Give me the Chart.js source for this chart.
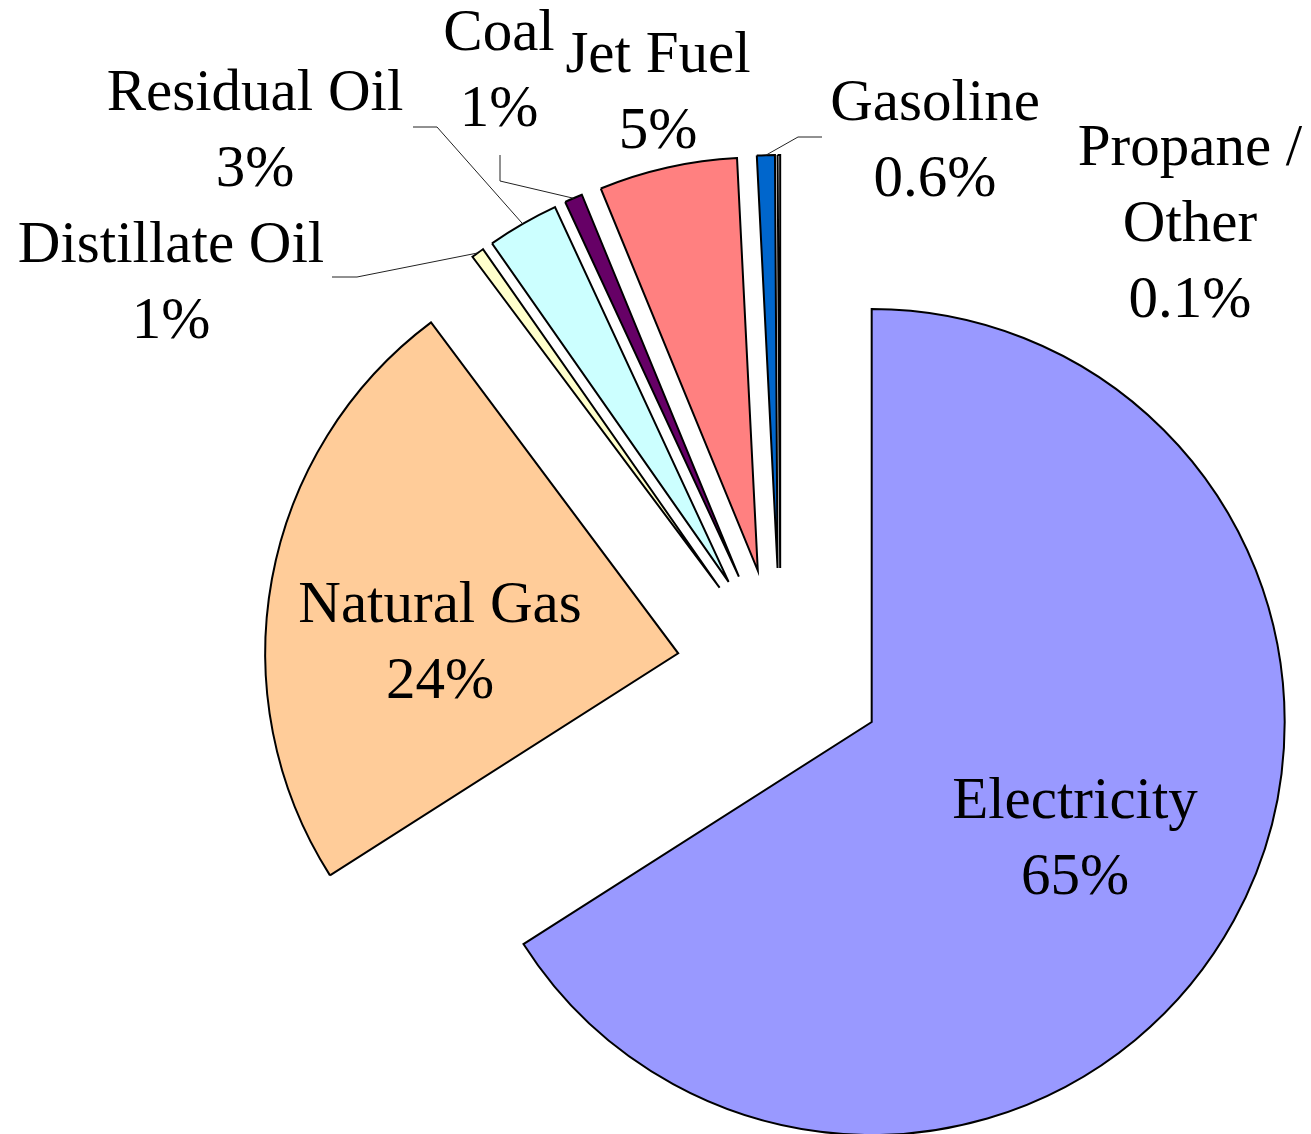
<!DOCTYPE html>
<html><head><meta charset="utf-8">
<script src="https://cdn.jsdelivr.net/npm/chart.js@4.4.0/dist/chart.umd.min.js"></script>
<style>html,body{margin:0;padding:0;background:#fff;overflow:hidden}#wrap{width:1311px;height:1134px;position:relative}</style>
</head><body><div id="wrap"><canvas id="c"></canvas></div>
<script>
// ---- data ----
const categories = ['Electricity', 'Natural Gas', 'Distillate Oil', 'Residual Oil', 'Coal', 'Jet Fuel', 'Gasoline', 'Propane / Other'];
const shares = [65.9, 23.8, 0.5, 2.8, 0.7, 5.4, 0.7, 0.1];
const shareLabels = ['65%', '24%', '1%', '3%', '1%', '5%', '0.6%', '0.1%'];
const sliceColors = ['#9999FF', '#FFCC99', '#FFFFCC', '#CCFFFF', '#660066', '#FF8080', '#0066CC', '#FFFFFF'];

// ---- label layout (annotation positions, not data) ----
const labelLayout = [
  {x: 1075, y: 818},
  {x: 440, y: 622},
  {x: 171, y: 262, leader: [[332, 277], [357, 277]]},
  {x: 255, y: 110, leader: [[413, 127], [437, 127]]},
  {x: 499, y: 50, leader: [[500, 155], [500, 181]]},
  {x: 658, y: 72},
  {x: 935, y: 120, leader: [[822, 137], [798, 137]]},
  {x: 1190, y: 165, wrap: ['Propane /', 'Other']}
];
const EXPLODE = 104;
const RADIUS = 413;
const LINE_H = 76;
const FONT = '59px "Liberation Serif", "Times New Roman", serif';

const explodePlugin = {
  id: 'explode',
  beforeDatasetDraw(chart, args) {
    const ctx = chart.ctx;
    args.meta.data.forEach(arc => {
      const mid = (arc.startAngle + arc.endAngle) / 2;
      ctx.save();
      ctx.translate(Math.cos(mid) * EXPLODE, Math.sin(mid) * EXPLODE);
      arc.draw(ctx);
      ctx.restore();
    });
    return false;
  },
  afterDatasetsDraw(chart) {
    const ctx = chart.ctx;
    const meta = chart.getDatasetMeta(0);
    ctx.save();
    meta.data.forEach((arc, i) => {
      const lay = labelLayout[i];
      if (!lay) return;
      const mid = (arc.startAngle + arc.endAngle) / 2;
      if (lay.leader) {
        const r = EXPLODE + arc.outerRadius;
        const ex = arc.x + Math.cos(mid) * r;
        const ey = arc.y + Math.sin(mid) * r;
        ctx.beginPath();
        ctx.lineWidth = 1;
        ctx.strokeStyle = '#222';
        ctx.moveTo(lay.leader[0][0], lay.leader[0][1]);
        for (let k = 1; k < lay.leader.length; k++) ctx.lineTo(lay.leader[k][0], lay.leader[k][1]);
        ctx.lineTo(ex, ey);
        ctx.stroke();
      }
      const lines = (lay.wrap || [categories[i]]).concat([shareLabels[i]]);
      ctx.font = FONT;
      ctx.fillStyle = '#000';
      ctx.textAlign = 'center';
      ctx.textBaseline = 'alphabetic';
      lines.forEach((t, k) => ctx.fillText(t, lay.x, lay.y + k * LINE_H));
    });
    ctx.restore();
  }
};

new Chart(document.getElementById('c'), {
  type: 'pie',
  data: {
    labels: categories,
    datasets: [{
      data: shares,
      backgroundColor: sliceColors,
      borderColor: '#000',
      borderWidth: 2,
      borderJoinStyle: 'miter',
      radius: RADIUS,
      offset: 0,
      hoverOffset: 0,
      clip: false
    }]
  },
  options: {
    responsive: true,
    maintainAspectRatio: false,
    animation: false,
    events: [],
    layout: {padding: {left: 250, top: 210, right: 0, bottom: 0}},
    plugins: {legend: {display: false}, tooltip: {enabled: false}}
  },
  plugins: [explodePlugin]
});
</script>
</body></html>
